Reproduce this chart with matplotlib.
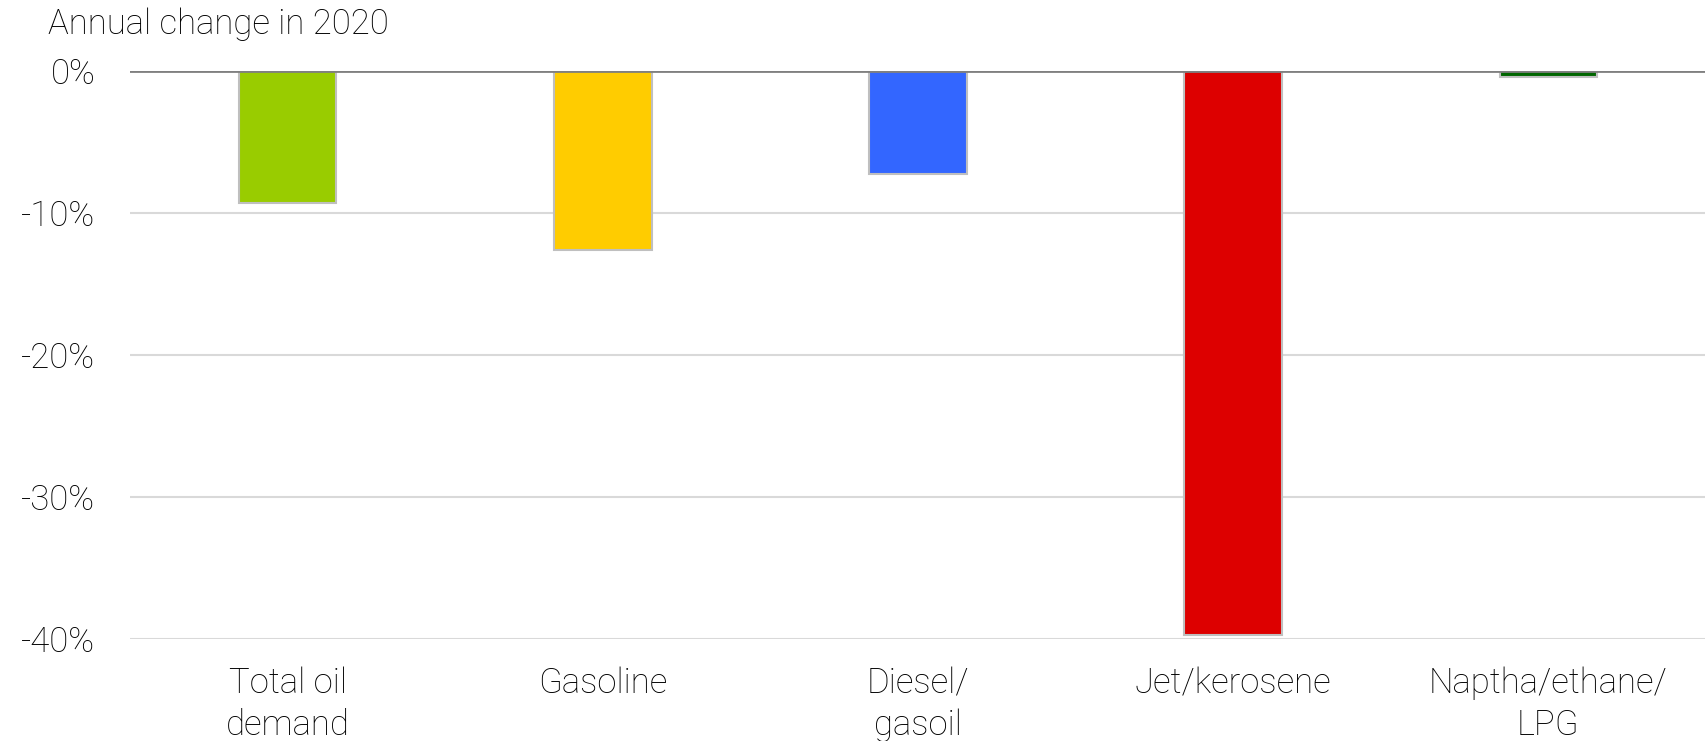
import matplotlib
matplotlib.use('Agg')
import matplotlib.pyplot as plt
from matplotlib.ticker import FuncFormatter

categories = ['Total oil\ndemand', 'Gasoline', 'Diesel/\ngasoil', 'Jet/kerosene', 'Naptha/ethane/\nLPG']
values = [-9.3, -12.6, -7.25, -39.7, -0.4]
colors = ['#99cc00', '#ffcc00', '#3366ff', '#dd0000', '#006600']

plt.rcParams['font.family'] = ['Roboto', 'DejaVu Sans']
plt.rcParams['font.weight'] = 'light'

fig = plt.figure(figsize=(17.06, 7.41), dpi=100)
ax = fig.add_axes([0.0762, 0.1377, 0.9238, 0.7665])

x = range(len(categories))
ax.bar(x, values, width=0.31, color=colors, edgecolor='#bfbfbf', linewidth=1.5, zorder=3)

ax.set_xlim(-0.5, len(categories) - 0.5)
ax.set_ylim(-40, 0)
ax.set_yticks([0, -10, -20, -30, -40])
ax.yaxis.set_major_formatter(FuncFormatter(lambda v, p: f'{v:.0f}%'))
ax.yaxis.grid(True, color='#d9d9d9', linewidth=1.5, zorder=0)
ax.axhline(0, color='#808080', linewidth=2, zorder=4)

ax.set_xticks(list(x))
ax.set_xticklabels(categories, fontsize=25, color='#000000', linespacing=1.3)
ax.tick_params(axis='x', length=0, pad=20)
ax.tick_params(axis='y', length=0, pad=25, labelsize=25, labelcolor='#000000')

for s in ax.spines.values():
    s.set_visible(False)

fig.text(0.028, 0.967, 'Annual change in 2020', fontsize=25, color='#000000', va='center', ha='left')

fig.savefig('out.png', dpi=100, facecolor='white')
